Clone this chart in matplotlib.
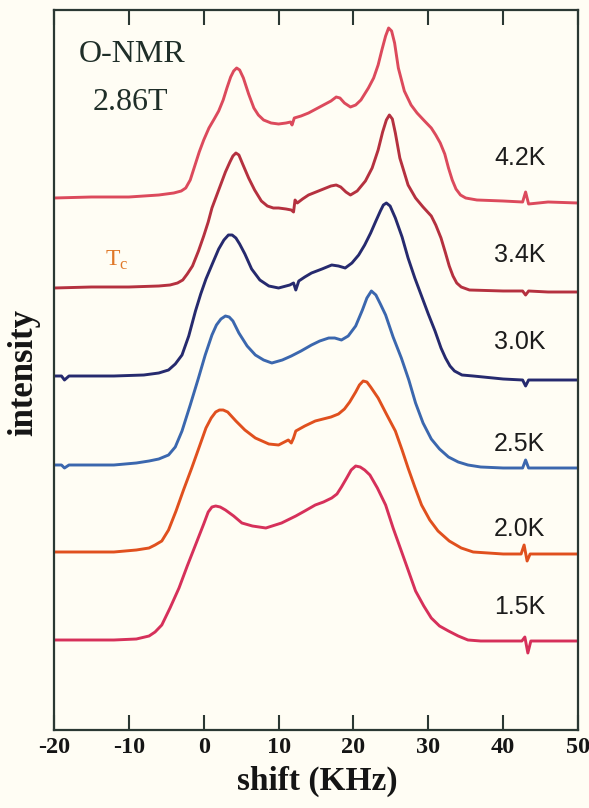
import matplotlib
matplotlib.use("Agg")
import matplotlib.pyplot as plt

plt.rcParams["mathtext.fontset"] = "custom"
plt.rcParams["mathtext.rm"] = "Liberation Serif"

# O-17 NMR spectra at 2.86 T, one trace per temperature (intensity in arb. units)
temps = ["4.2K", "3.4K", "3.0K", "2.5K", "2.0K", "1.5K"]
colors = ["#dc4a5c", "#b5313f", "#262a6e", "#3b67ae", "#e0501e", "#d6305a"]
offsets = [532, 442, 354, 265, 178, 90]

shift_42 = [-20, -15, -10, -6, -4, -3, -2.4, -1.8, -1.2, -0.6,
            0, 0.7, 1.4, 2, 2.6, 3.1, 3.6, 4, 4.4, 4.8,
            5.3, 6, 6.7, 7.3, 8, 9, 10, 11, 11.6, 11.8,
            12.1, 13, 14, 15, 16, 17, 17.7, 18.2, 18.8, 19.6,
            20.3, 21, 22, 22.7, 23.3, 23.8, 24.3, 24.7, 25.1, 25.5,
            26, 26.8, 27.7, 28.5, 29.5, 30.4, 31, 31.6, 32.2, 32.7,
            33.2, 33.7, 34.3, 35, 36.5, 40, 42.6, 43, 43.4, 46, 50]
int_42 = [0, 1, 1, 3, 5, 7, 10, 18, 32, 46,
          58, 70, 79, 87, 98, 110, 121, 127, 130, 128,
          120, 104, 90, 83, 78, 75, 74, 75, 76, 73,
          80, 82, 85, 89, 93, 97, 101, 100, 95, 91,
          93, 98, 110, 120, 133, 148, 162, 170, 167, 155,
          130, 107, 93, 85, 77, 70, 63, 55, 44, 30,
          18, 9, 3, 0, -2, -3, -4, 6, -6, -4, -5]

shift_34 = [-20, -15, -10, -6, -4.5, -3.5, -2.8, -2.2, -1.5, -0.7,
            0, 0.6, 1.1, 1.7, 2.3, 2.9, 3.5, 3.9, 4.3, 4.7,
            5.2, 6, 6.8, 7.7, 8.5, 9.3, 10, 11, 11.7, 12,
            12.2, 12.5, 13.2, 14, 15, 16, 17, 17.7, 18.3, 19,
            19.6, 20.5, 21.6, 22.5, 23.3, 23.9, 24.4, 24.8, 25.2, 25.6,
            26.2, 27.3, 28.3, 29.3, 30.4, 31, 31.7, 32.3, 32.8, 33.3,
            33.8, 34.4, 35.5, 40, 42.6, 43, 43.4, 46, 50]
int_34 = [0, 1, 1, 2, 3, 5, 8, 14, 22, 37,
          52, 66, 80, 92, 104, 116, 126, 132, 135, 133,
          124, 110, 98, 87, 82, 80, 80, 79, 78, 76,
          88, 85, 89, 93, 96, 99, 102, 103, 101, 96,
          93, 97, 107, 120, 138, 156, 168, 173, 169, 155,
          130, 103, 90, 81, 72, 63, 50, 35, 22, 12,
          5, 1, -2, -3, -3, -7, -3, -4, -4]

shift_30 = [-20, -19, -18.6, -18, -12, -8, -6, -4.7, -3.8, -2.9,
            -2, -1.1, -0.4, 0.3, 1.2, 2, 2.7, 3.3, 3.8, 4.3,
            4.8, 5.5, 6.4, 7.5, 8.7, 10, 11.5, 12, 12.3, 12.7,
            13.5, 14.4, 15.8, 17.1, 18, 18.9, 19.8, 20.7, 21.5, 22.3,
            23, 23.6, 24, 24.4, 24.9, 25.6, 26.5, 27.3, 28.2, 29.1,
            30, 30.9, 31.7, 32.3, 32.9, 33.5, 34.5, 36, 40, 42.6,
            43, 43.4, 46, 50]
int_30 = [0, 0, -4, 0, 0, 1, 3, 6, 12, 21,
          40, 65, 82, 97, 113, 127, 136, 141, 141, 138,
          132, 122, 107, 96, 90, 88, 91, 93, 86, 95,
          99, 103, 107, 111, 110, 108, 113, 121, 131, 143,
          155, 165, 171, 173, 170, 158, 139, 118, 98, 80,
          62, 45, 28, 18, 10, 5, 1, 0, -3, -4,
          -10, -4, -4, -4]

shift_25 = [-20, -19, -18.6, -18, -12, -9, -7.3, -6, -4.7, -3.8,
            -2.9, -1.8, -0.7, 0.2, 1.1, 1.7, 2.3, 2.9, 3.4, 3.9,
            4.7, 5.8, 6.9, 8, 9.1, 10.5, 11.7, 13, 14.4, 15.5,
            16.7, 17.5, 18.4, 19.3, 20.3, 21.2, 21.8, 22.4, 23, 23.6,
            24.3, 25.3, 26.4, 27.4, 28.3, 29.3, 30.4, 31.5, 32.7, 34,
            35.3, 37, 40, 42.6, 43, 43.4, 46, 50]
int_25 = [0, 0, -3, 0, 0, 2, 4, 6, 10, 18,
          34, 60, 87, 110, 130, 140, 146, 149, 148, 144,
          132, 119, 110, 105, 102, 105, 109, 114, 120, 124,
          127, 127, 125, 129, 139, 155, 167, 174, 170, 161,
          150, 128, 107, 85, 62, 42, 26, 16, 8, 3,
          0, -2, -3, -3, 5, -3, -3, -3]

shift_20 = [-20, -12, -9, -7.3, -6.5, -5.6, -4.7, -3.7, -2.7, -1.6,
            -0.6, 0.3, 1, 1.6, 2.1, 2.6, 3.2, 4.3, 5.5, 6.9,
            8.7, 10, 11.3, 11.7, 12, 12.3, 13.5, 14.9, 17, 18,
            18.8, 19.5, 20.3, 20.8, 21.3, 21.8, 22.3, 23.3, 24.4, 25.6,
            26.5, 27.3, 28.2, 29.1, 30.2, 31.3, 32.8, 34.4, 36, 40,
            42.4, 42.8, 43.2, 43.6, 46, 50]
int_20 = [0, 0, 2, 4, 7, 11, 22, 41, 62, 84,
          105, 124, 134, 140, 142, 142, 140, 131, 122, 114,
          108, 107, 112, 109, 114, 121, 126, 131, 135, 138,
          143, 150, 160, 167, 171, 170, 165, 154, 138, 121,
          102, 84, 65, 47, 32, 21, 11, 4, 0, -2,
          -2, 7, -9, -2, -2, -2]

shift_15 = [-20, -12, -9, -7.3, -6.5, -5.6, -4.5, -3.3, -2.2, -1.1,
            0, 0.6, 1.1, 1.6, 2.2, 2.9, 4, 5.1, 6.5, 8.3,
            10.4, 12.3, 13.5, 14.9, 16, 17.1, 17.8, 18.4, 19.1, 19.7,
            20.3, 20.9, 21.5, 22.2, 23.2, 24.3, 25.3, 26.4, 27.4, 28.3,
            29.4, 30.4, 31.5, 32.7, 34, 35.3, 37, 40, 42.5, 42.9,
            43.3, 43.7, 46, 50]
int_15 = [0, 0, 1, 4, 8, 15, 32, 52, 74, 95,
          116, 128, 133, 134, 133, 130, 124, 117, 114, 112,
          117, 124, 129, 135, 138, 142, 146, 153, 162, 170,
          174, 173, 170, 165, 152, 135, 112, 89, 68, 49,
          34, 22, 14, 9, 4, 0, -1, -1, -1, 3,
          -13, -1, -1, -1]

shifts = [shift_42, shift_34, shift_30, shift_25, shift_20, shift_15]
intensities = [int_42, int_34, int_30, int_25, int_20, int_15]

xticks = [-20, -10, 0, 10, 20, 30, 40, 50]

bg = "#fffdf4"
axis_col = "#2b3833"
W, H = 589, 808

fig = plt.figure(figsize=(W / 100, H / 100), dpi=100, facecolor=bg)
ax = fig.add_axes([54 / W, 1 - 730 / H, 524 / W, 720 / H])
ax.set_facecolor(bg)

for x, y, off, c in zip(shifts, intensities, offsets, colors):
    ax.plot(x, [v + off for v in y], color=c, lw=2.1,
            solid_joinstyle="round", solid_capstyle="round")

ax.set_xlim(-20, 50)
ax.set_ylim(0, 720)

# ticks: inward on top and bottom, nothing on the intensity axis
ax.set_xticks(xticks)
ax.set_xticklabels([str(t) for t in xticks], fontfamily="Liberation Serif",
                   fontweight="bold", fontsize=17.5, color="#151515")
ax.tick_params(axis="x", direction="in", length=11, width=1.5, color=axis_col,
               top=True, pad=5)
ax.set_yticks([])
for s in ax.spines.values():
    s.set_color(axis_col)
    s.set_linewidth(1.6)

fig.text(317 / W, 1 - 781 / H, "shift (KHz)", fontfamily="Liberation Serif",
         fontweight="bold", fontsize=24, color="#151515", ha="center", va="center")
fig.text(24 / W, 1 - 372 / H, "intensity", fontfamily="Liberation Serif",
         fontweight="bold", fontsize=25, color="#151515", ha="center", va="center",
         rotation=90)

# temperature labels beside each trace
label_y = [572, 475, 388, 286, 201, 123]
for t, ly in zip(temps, label_y):
    ax.text(42.2, ly, t, fontfamily="Liberation Sans", fontsize=18,
            color="#1c1c1c", ha="center", va="center")

ax.text(-9.6, 676, "O-NMR", fontfamily="Liberation Serif", fontsize=23,
        color="#1f2e28", ha="center", va="center")
ax.text(-9.8, 628, "2.86T", fontfamily="Liberation Serif", fontsize=23,
        color="#1f2e28", ha="center", va="center")
ax.text(-11.6, 470, r"T$_{\rm c}$", fontfamily="Liberation Serif", fontsize=17,
        color="#e07828", ha="center", va="center")

fig.savefig("out.png", dpi=100, facecolor=bg)
